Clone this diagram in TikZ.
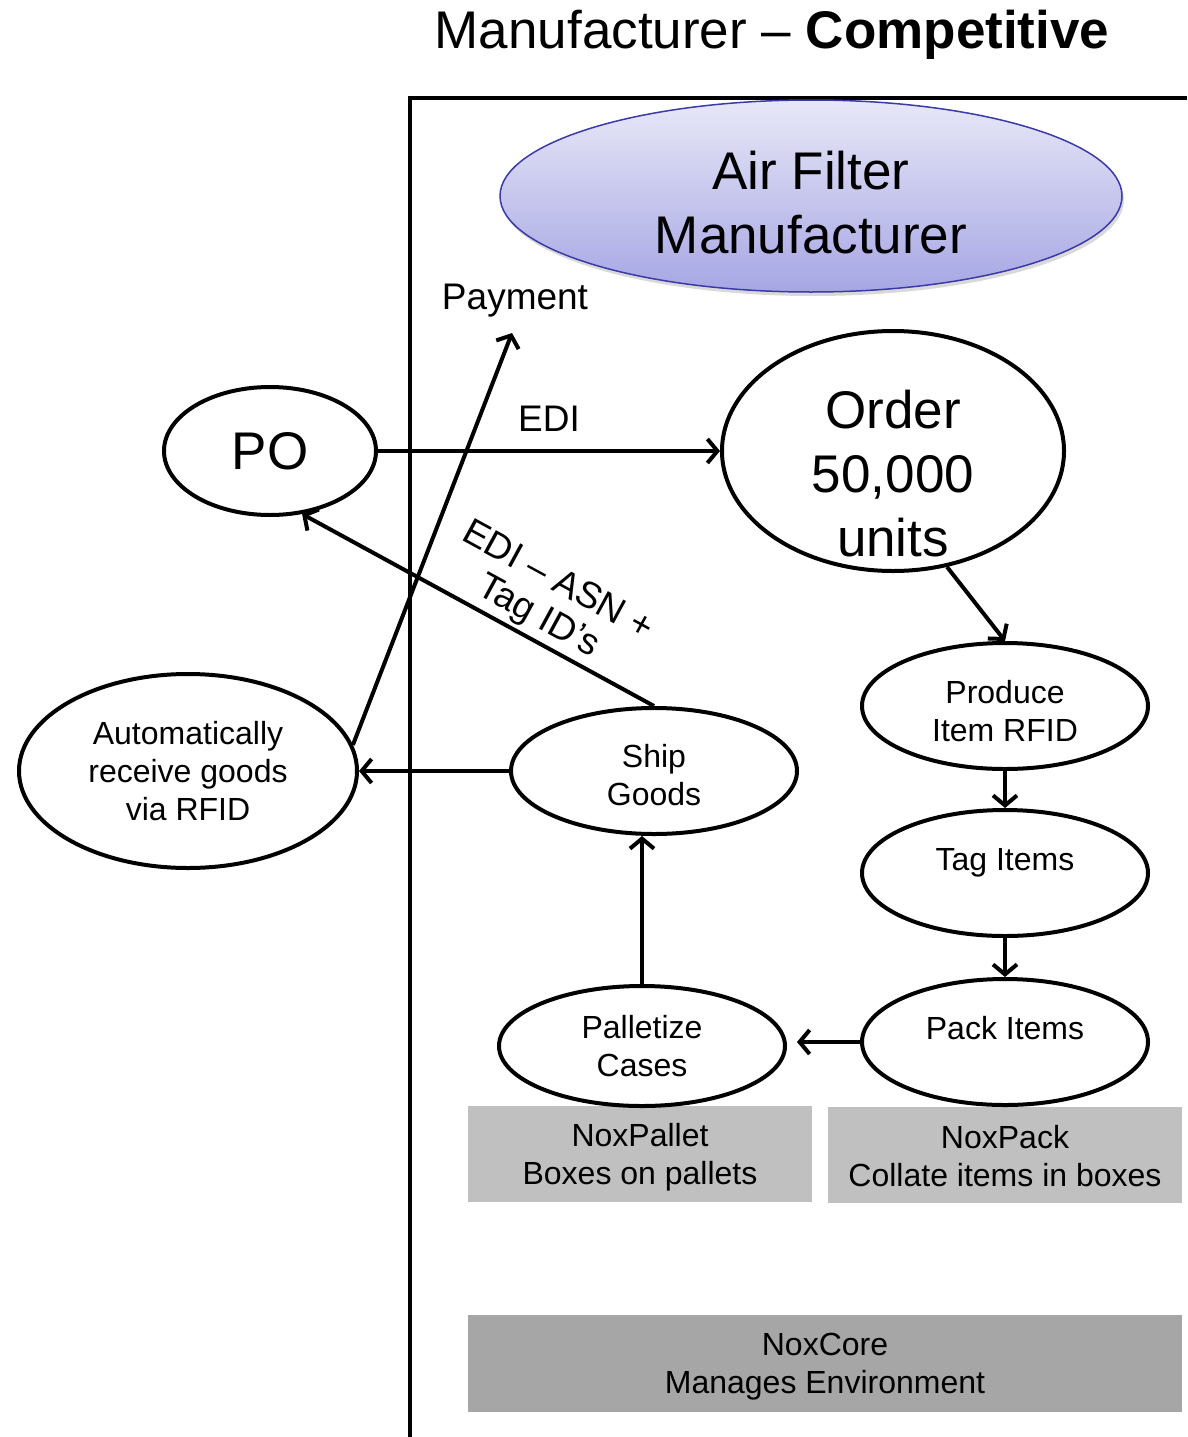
\documentclass[tikz,border=0pt]{standalone}
\usepackage{fontspec}
\setmainfont{Liberation Sans}
\usetikzlibrary{shapes.geometric,arrows.meta,shadows}
\definecolor{lavtop}{HTML}{E8E8F8}
\definecolor{lavbot}{HTML}{A6A6E4}
\definecolor{lavline}{HTML}{3A3AA8}
\definecolor{boxlight}{HTML}{C0C0C0}
\definecolor{boxdark}{HTML}{A6A6A6}
\newcommand{\shiftT}[2]{\raisebox{#1}[\height][\depth]{\begin{tabular}{@{}c@{}}#2\end{tabular}}}
\begin{document}
\begin{tikzpicture}[x=1pt,y=-1pt,
  oval/.style={ellipse, draw, line width=4pt, inner sep=0pt, align=center, font=\fontsize{32}{38}\selectfont},
  bigtext/.style={font=\fontsize{53}{64}\selectfont},
  lbl/.style={font=\fontsize{37}{44}\selectfont},
  arr/.style={line width=4pt, -{Straight Barb[length=10pt,width=24pt]}},
  graybox/.style={rectangle, inner sep=0pt, align=center, font=\fontsize{32}{38}\selectfont}
]
\useasboundingbox (0,0) rectangle (1187,1437);

% title
\node[font=\fontsize{53}{60}\selectfont] (title) at (772,35) {Manufacturer -- \textbf{Competitive}};

% frame
\draw[line width=4pt] (410,1437) -- (410,98) -- (1187,98);

% top ellipse
\node[ellipse, draw=lavline, line width=1.5pt, top color=lavtop, bottom color=lavbot,
      drop shadow={shadow xshift=2pt, shadow yshift=-4pt, opacity=0.3},
      minimum width=622pt, minimum height=192pt, inner sep=0pt, align=center,
      font=\fontsize{53}{64}\selectfont] (afm) at (811,196) {\shiftT{-13pt}{Air Filter\\Manufacturer}};

% gray boxes
\node[graybox, fill=boxlight, minimum width=344pt, minimum height=96pt] (noxpallet) at (640,1154) {\shiftT{-4pt}{NoxPallet\\Boxes on pallets}};
\node[graybox, fill=boxlight, minimum width=354pt, minimum height=96pt] (noxpack) at (1005,1155) {\shiftT{-5pt}{NoxPack\\Collate items in boxes}};
\node[graybox, fill=boxdark, minimum width=714pt, minimum height=97pt] (noxcore) at (825,1363) {\shiftT{-4pt}{NoxCore\\Manages Environment}};

% ellipses
\node[oval, bigtext, minimum width=212pt, minimum height=128pt] (po) at (270,451) {PO};
\node[oval, bigtext, inner ysep=-30pt, minimum width=342pt, minimum height=240pt] (order) at (893,451) {\shiftT{-29pt}{Order\\50,000\\units}};
\node[oval, minimum width=286pt, minimum height=126pt] (produce) at (1005,706) {\shiftT{-9pt}{Produce\\Item RFID}};
\node[oval, minimum width=286pt, minimum height=126pt] (tag) at (1005,873) {\shiftT{10pt}{Tag Items}};
\node[oval, minimum width=286pt, minimum height=126pt] (pack) at (1005,1042) {\shiftT{10pt}{Pack Items}};
\node[oval, minimum width=286pt, minimum height=120pt] (pal) at (642,1046) {Palletize\\Cases};
\node[oval, minimum width=286pt, minimum height=126pt] (ship) at (654,771) {\shiftT{-8pt}{Ship\\Goods}};
\node[oval, minimum width=338pt, minimum height=194pt] (auto) at (188,771) {Automatically\\receive goods\\via RFID};

% payment label
\node[lbl] (payment) at (515,301) {Payment};
\coordinate (payend) at (512,333);

% connectors
\draw[arr] (po.east) -- node[above=14pt, lbl] (edi) {EDI} (order.west);
\draw[arr] (order.-65) -- (produce.north);
\draw[arr] (produce.south) -- (tag.north);
\draw[arr] (tag.south) -- (pack.north);
\draw[arr, shorten >=10pt] (pack.west) -- (pack.west -| pal.east);
\draw[arr] (pal.north) -- (pal.north |- ship.south);
\draw[arr] (ship.west) -- (auto.east);
\draw[arr] (ship.north) -- node[sloped, above=0pt, pos=0.36, align=center, font=\fontsize{37}{40}\selectfont] (asn) {EDI -- ASN +\\Tag ID's} (po.-63);
\draw[arr] (auto.9) -- (payend);
\end{tikzpicture}
\end{document}
